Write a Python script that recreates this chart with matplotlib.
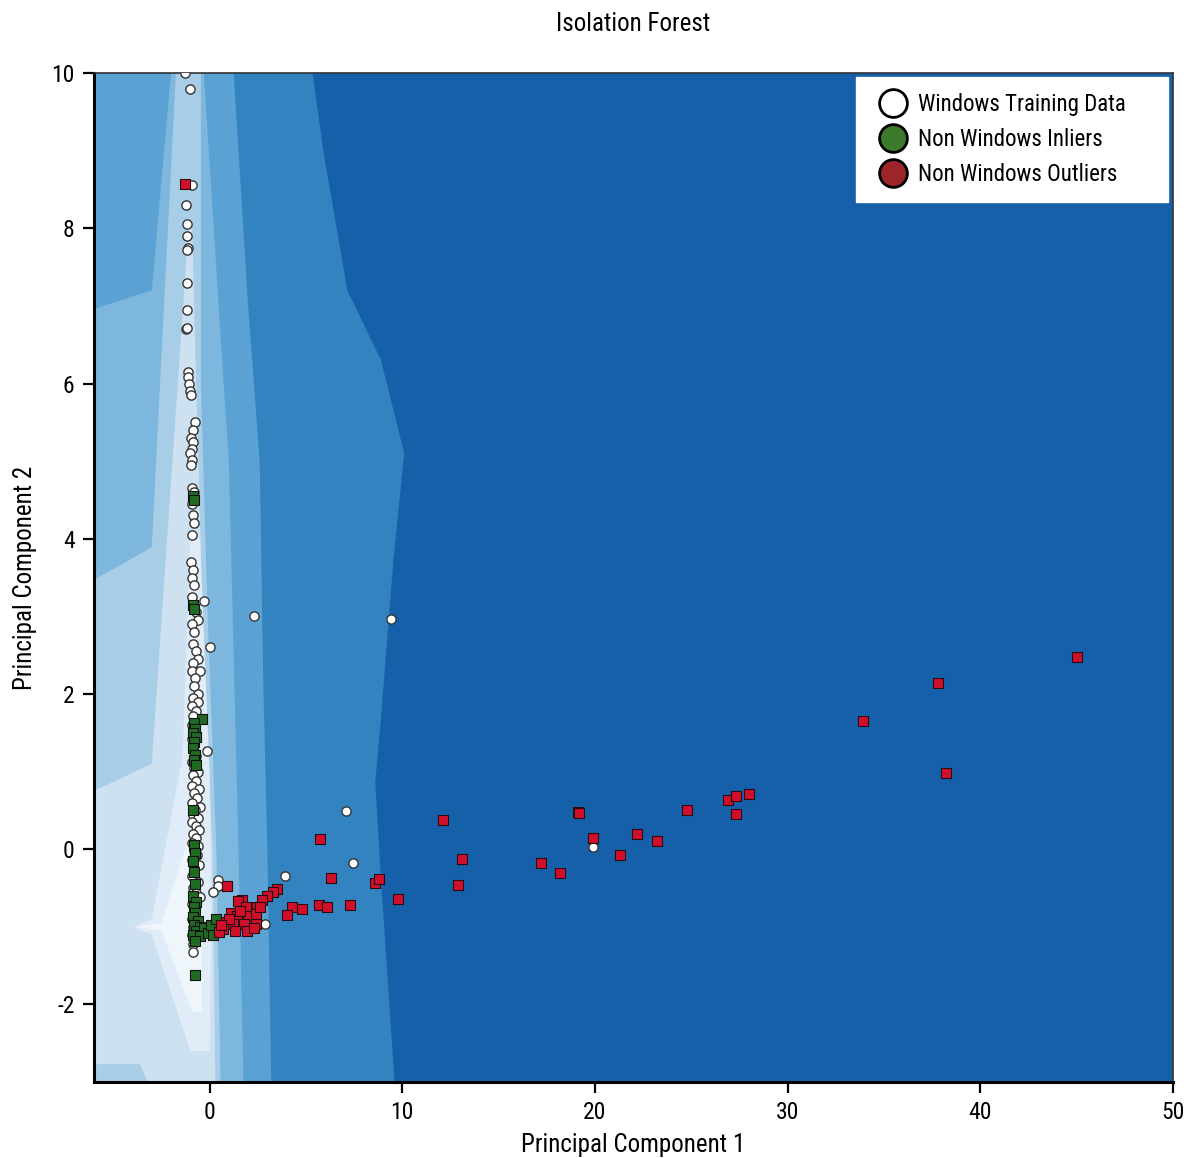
import matplotlib
matplotlib.use("Agg")
import matplotlib.pyplot as plt
from matplotlib import font_manager
from matplotlib.lines import Line2D

names = {f.name for f in font_manager.fontManager.ttflist}
fam = "DejaVu Sans"
for cand in ["Liberation Sans Narrow", "Roboto Condensed", "Open Sans Condensed", "DejaVu Sans Condensed"]:
    if cand in names:
        fam = cand
        break
plt.rcParams['font.family'] = [fam, 'DejaVu Sans']

# ---------------- data ----------------
title = "Isolation Forest"
xlabel = "Principal Component 1"
ylabel = "Principal Component 2"
x_ticks = [0, 10, 20, 30, 40, 50]
y_ticks = [-2, 0, 2, 4, 6, 8, 10]
legend_labels = ["Windows Training Data", "Non Windows Inliers", "Non Windows Outliers"]

# decision-function bands (light = normal, dark = anomalous); each band given by
# its left edge (y, x) from bottom to top and right edge (y, x) from top to bottom
band_colors = ["#3383c1", "#5aa2d4", "#7db7dd", "#a8cee7", "#cde1f1", "#e0ecf7", "#eef5fb"]
band_left_y = [
    [-3, 10],
    [-3, 10],
    [-3, 6.96, 7.2, 10],
    [-3, 3.47, 3.89, 10],
    [-3, -2.77, -2.77, 0.75, 1.1, 8.0],
    [-2.6, -1.1, -1.0, -0.9, 1.2, 4.0],
    [-2.1, -1.05, -1.0, -0.95, 0.3],
]
band_left_x = [
    [-6, -6],
    [-6, -6],
    [-6, -6, -3.0, -2.0],
    [-6, -6, -3.0, -1.75],
    [-3.2, -3.6, -6, -6, -3.0, -1.1],
    [-1.0, -3.0, -3.95, -3.0, -1.4, -1.0],
    [-0.9, -2.5, -3.9, -2.5, -0.9],
]
band_right_y = [
    [10, 9.0, 7.2, 6.3, 5.1, 3.75, 1.7, 0.86, -0.4, -3],
    [10, 7, 5, 2, 0, -3],
    [10, 6, 5, 0, -3],
    [10, 6, 3, 0, -3],
    [8.0, 6, 3, 0, -3],
    [4.0, 1.0, -1.0, -2.6],
    [0.3, -2.1],
]
band_right_x = [
    [5.35, 5.9, 7.15, 8.9, 10.1, 9.55, 8.9, 8.6, 8.9, 9.6],
    [1.25, 2.0, 2.6, 2.8, 3.0, 3.2],
    [-0.3, 0.73, 1.0, 1.5, 1.76],
    [-0.45, -0.45, -0.1, 0.35, 0.57],
    [-0.9, -0.7, -0.35, 0.15, 0.3],
    [-0.5, 0.0, 0.1, 0.0],
    [-0.4, -0.4],
]

# Windows training data
win_x = [-1.3, -1.0, -0.93, -1.2, -1.15, -1.15, -1.1, -1.15, -1.15, -1.15, -1.2, -1.15,
         -1.1, -1.1, -1.05, -1.0, -0.95, -0.75, -0.85, -0.95, -0.85, -0.9, -1.0, -0.9,
         -0.95, -0.9, -0.8, -0.9, -0.85, -0.8, -0.9, -0.95, -0.85, -0.9, -0.8, -0.9,
         -0.3, -0.7, -0.6, -0.9, -0.8, -0.85, 0.0, -0.7, -0.6, -0.85, -0.9, -0.5,
         -0.75, -0.8, -0.6,
         -0.85, -0.6, -0.9, -0.7, -0.85, -0.9, -0.75, -0.9, -0.8, -0.15, -0.7, -0.9,
         -0.8, -0.6, -0.85, -0.7, -0.9, -0.55, -0.8, -0.65, -0.9, -0.5, -0.75, -0.85,
         -0.6, -0.9, -0.7, -0.55, -0.85, -0.7, -0.9, -0.6, -0.8, -0.65, -0.9, -0.55,
         -0.8, -0.9, -0.6, -0.85, -0.7, -0.5, -0.9, -0.8, -0.9, -0.85, -0.9, -0.85,
         -0.85,
         0.46, 0.46, 0.2, 2.9, 3.9, 7.1, 7.47, 2.33, 9.44, 19.9]
win_y = [10.0, 9.8, 8.56, 8.3, 8.06, 7.9, 7.75, 7.72, 7.3, 6.95, 6.7, 6.72,
         6.15, 6.08, 6.0, 5.9, 5.85, 5.5, 5.4, 5.3, 5.25, 5.15, 5.1, 5.02,
         4.95, 4.65, 4.6, 4.45, 4.3, 4.2, 4.05, 3.7, 3.6, 3.5, 3.4, 3.25,
         3.2, 3.05, 2.95, 2.9, 2.8, 2.65, 2.6, 2.55, 2.45, 2.4, 2.3, 2.3,
         2.2, 2.1, 2.0,
         1.95, 1.9, 1.85, 1.78, 1.72, 1.6, 1.5, 1.42, 1.35, 1.26, 1.2, 1.12,
         1.05, 1.0, 0.95, 0.88, 0.82, 0.78, 0.72, 0.66, 0.6, 0.55, 0.5, 0.44,
         0.4, 0.35, 0.3, 0.25, 0.2, 0.14, 0.08, 0.04, -0.02, -0.08, -0.14, -0.2,
         -0.26, -0.35, -0.42, -0.5, -0.56, -0.62, -0.7, -0.8, -0.9, -1.0, -1.1, -1.22,
         -1.33,
         -0.4, -0.47, -0.55, -0.96, -0.35, 0.49, -0.18, 3.01, 2.97, 0.03]

# Non-Windows inliers
inl_x = [-0.85, -0.8, -0.85, -0.8, -0.4, -0.8, -0.75, -0.85, -0.7, -0.8, -0.85, -0.75,
         -0.8, -0.7, -0.85, -0.8, -0.75, -0.85, -0.8, -0.75, -0.85, -0.7, -0.8, -0.75,
         -0.85, -0.6, -0.8, -0.5, -0.7, -0.3, -0.85, -0.5, -0.1, 0.1, 0.2, 0.35,
         -0.75, -0.78]
inl_y = [4.55, 4.5, 3.15, 3.1, 1.68, 1.62, 1.55, 1.5, 1.45, 1.38, 1.3, 1.22,
         1.15, 1.08, 0.5, 0.05, -0.05, -0.15, -0.3, -0.45, -0.6, -0.68, -0.75, -0.82,
         -0.88, -0.92, -0.98, -1.0, -1.05, -1.02, -1.1, -1.12, -1.08, -0.98, -1.1, -0.9,
         -1.18, -1.62]

# Non-Windows outliers
out_x = [-1.25, 0.93, 3.5, 3.3, 3.0, 2.7, 2.45, 1.7, 1.5, 1.9, 1.1, 1.4, 2.0, 2.4,
         0.85, 1.2, 1.8, 2.4, 0.7, 1.3, 1.95, 2.3, 0.5, 1.0, 1.6, 2.6, 0.6,
         4.3, 4.8, 4.0, 5.75, 6.3, 5.7, 6.1, 7.3, 8.6, 8.8, 9.8,
         12.1, 13.1, 12.9, 17.2, 18.2, 19.1, 19.2, 19.9, 21.3, 22.2, 23.2, 24.8,
         26.9, 27.3, 27.3, 28.0, 33.9, 37.8, 38.2, 45.0]
out_y = [8.57, -0.47, -0.51, -0.55, -0.6, -0.65, -0.74, -0.66, -0.67, -0.74, -0.82, -0.86, -0.86, -0.84,
         -0.94, -0.96, -0.96, -0.96, -1.03, -1.05, -1.05, -1.01, -1.07, -0.9, -0.8, -0.75, -0.98,
         -0.75, -0.77, -0.85, 0.13, -0.37, -0.72, -0.74, -0.72, -0.43, -0.38, -0.64,
         0.38, -0.12, -0.46, -0.18, -0.31, 0.48, 0.47, 0.14, -0.08, 0.2, 0.1, 0.5,
         0.64, 0.68, 0.45, 0.71, 1.65, 2.14, 0.98, 2.47]

# ---------------- figure ----------------
fig = plt.figure(figsize=(11.88, 11.58), dpi=100)
ax = fig.add_axes([0.0791, 0.0656, 0.9082, 0.8713])
ax.set_facecolor("#1660aa")

for col, ly, lx, ry, rx in zip(band_colors, band_left_y, band_left_x, band_right_y, band_right_x):
    ax.fill(lx + rx, ly + ry, color=col, lw=0, zorder=1)

ax.scatter(win_x, win_y, s=44, marker='o', facecolor='white', edgecolor='#333333', linewidth=1.0, zorder=3)
ax.scatter(inl_x, inl_y, s=44, marker='s', facecolor='#1f6b22', edgecolor='#111111', linewidth=0.8, zorder=4)
ax.scatter(out_x, out_y, s=46, marker='s', facecolor='#d0102a', edgecolor='#2a0a10', linewidth=0.8, zorder=5)

ax.set_xlim(-6, 50)
ax.set_ylim(-3, 10)
ax.set_xticks(x_ticks)
ax.set_yticks(y_ticks)
ax.set_xticklabels([str(t) for t in x_ticks])
ax.set_yticklabels([str(t).replace('\u2212', '-') for t in y_ticks])
ax.tick_params(direction='out', length=8, width=1.6, labelsize=17, color='black', pad=6)

for side in ['left', 'bottom']:
    ax.spines[side].set_linewidth(2.2)
    ax.spines[side].set_color('black')
for side in ['top', 'right']:
    ax.spines[side].set_linewidth(1.2)
    ax.spines[side].set_color('#333333')

ax.set_title(title, fontsize=18, pad=30)
ax.set_xlabel(xlabel, fontsize=18, labelpad=6)
ax.set_ylabel(ylabel, fontsize=18, labelpad=10)

handles = [
    Line2D([], [], marker='o', linestyle='none', markersize=20, markerfacecolor='white', markeredgecolor='black', markeredgewidth=2),
    Line2D([], [], marker='o', linestyle='none', markersize=20, markerfacecolor='#3c7a2b', markeredgecolor='black', markeredgewidth=2),
    Line2D([], [], marker='o', linestyle='none', markersize=20, markerfacecolor='#9b2528', markeredgecolor='black', markeredgewidth=2),
]
leg = ax.legend(handles, legend_labels, loc='upper right', fontsize=16.5, frameon=True, fancybox=False,
                framealpha=1.0, edgecolor='white', borderpad=0.7, handletextpad=0.17,
                labelspacing=0.52, handlelength=1.83, borderaxespad=0, mode='expand',
                bbox_to_anchor=(0.706, 0.0, 0.2894, 0.996))
leg.set_zorder(10)

fig.savefig("out.png", dpi=100)
